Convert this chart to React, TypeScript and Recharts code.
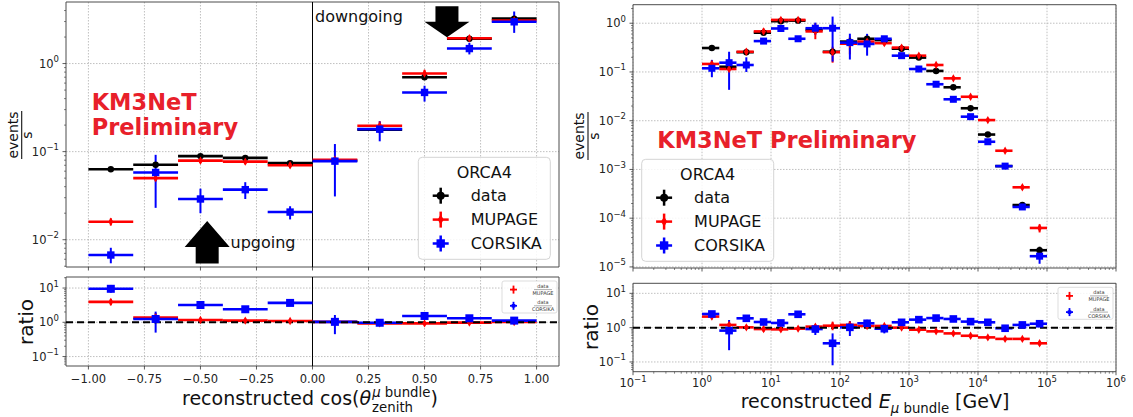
import React from "react";
import {
  ComposedChart,
  Scatter,
  XAxis,
  YAxis,
  CartesianGrid,
  ErrorBar,
  ReferenceLine,
  ReferenceArea,
  ReferenceDot,
} from "recharts";

const FONT = "'DejaVu Sans', 'Liberation Sans', sans-serif";
const RED_TXT = "#e8202a";
const C_DATA = "#000000";
const C_MUP = "#ff0000";
const C_COR = "#0000ff";
const FRAME = "#4d4d4d";
const GRID = "#b0b0b0";
const TS = 3.5;
const TM = 3.5;

type Pair = [number, number];

// ---- cos(zenith) binning (left panel)
const cosLow = [-1.0, -0.8, -0.6, -0.4, -0.2, 0.0, 0.2, 0.4, 0.6, 0.8];
const cosHigh = [-0.8, -0.6, -0.4, -0.2, 0.0, 0.2, 0.4, 0.6, 0.8, 1.0];
const cosMid = [-0.9, -0.7, -0.5, -0.3, -0.1, 0.1, 0.3, 0.5, 0.7, 0.9];
const cosTicks = [-1.0, -0.75, -0.5, -0.25, 0.0, 0.25, 0.5, 0.75, 1.0];

const cosData = [0.063, 0.071, 0.089, 0.085, 0.074, 0.079, 0.178, 0.7, 1.91, 3.24];
const cosDataErr: Pair[] = [[0.002, 0.002], [0.003, 0.003], [0.003, 0.003], [0.003, 0.003], [0.003, 0.003], [0.004, 0.004], [0.008, 0.008], [0.03, 0.03], [0.08, 0.08], [0.12, 0.12]];
const cosMupage = [0.016, 0.05, 0.079, 0.077, 0.07, 0.081, 0.197, 0.77, 1.94, 3.08];
const cosMupageErr: Pair[] = [[0.0015, 0.0015], [0.004, 0.004], [0.005, 0.005], [0.005, 0.005], [0.005, 0.005], [0.005, 0.005], [0.02, 0.025], [0.07, 0.08], [0.12, 0.12], [0.2, 0.2]];
const cosCorsika = [0.0067, 0.058, 0.029, 0.037, 0.0206, 0.078, 0.18, 0.47, 1.48, 2.98];
const cosCorsikaErr: Pair[] = [[0.0013, 0.0014], [0.035, 0.034], [0.009, 0.009], [0.008, 0.008], [0.0036, 0.0034], [0.047, 0.044], [0.049, 0.04], [0.1, 0.09], [0.21, 0.24], [0.75, 0.92]];

const cosRatioMupage = [3.94, 1.37, 1.17, 1.12, 1.09, 1.03, 0.93, 0.93, 0.98, 1.02];
const cosRatioMupageErr: Pair[] = [[0.8, 0.9], [0.4, 0.5], [0.15, 0.2], [0.12, 0.15], [0.12, 0.15], [0.1, 0.1], [0.1, 0.12], [0.1, 0.1], [0.1, 0.1], [0.1, 0.1]];
const cosRatioCorsika = [9.5, 1.25, 3.2, 2.4, 3.68, 1.03, 0.97, 1.53, 1.31, 1.12];
const cosRatioCorsikaErr: Pair[] = [[2.2, 2.8], [0.75, 0.8], [0.7, 0.9], [0.4, 0.5], [0.6, 0.7], [0.58, 0.6], [0.12, 0.14], [0.2, 0.25], [0.15, 0.18], [0.2, 0.25]];

// ---- E_mu bundle binning (right panel)
const eLow = [1, 1.78, 3.16, 5.62, 10, 17.8, 31.6, 56.2, 100, 178, 316, 562, 1000, 1778, 3162, 5623, 10000, 17783, 31623, 56234];
const eHigh = [1.78, 3.16, 5.62, 10, 17.8, 31.6, 56.2, 100, 178, 316, 562, 1000, 1778, 3162, 5623, 10000, 17783, 31623, 56234, 100000];
const eMid = [1.39, 2.47, 4.39, 7.81, 13.9, 24.7, 43.9, 78.1, 139, 247, 439, 781, 1389, 2470, 4392, 7812, 13891, 24703, 43928, 78117];
const eTicks = [0.1, 1, 10, 100, 1000, 10000, 100000, 1000000];

const eData = [0.31, 0.128, 0.254, 0.64, 1.1, 1.13, 0.73, 0.26, 0.42, 0.48, 0.45, 0.3, 0.197, 0.105, 0.0485, 0.018, 0.0052, 0.00117, 0.000186, 0.000022];
const eDataErr: Pair[] = [[0.012, 0.012], [0.008, 0.008], [0.012, 0.012], [0.025, 0.025], [0.04, 0.04], [0.04, 0.04], [0.03, 0.03], [0.015, 0.015], [0.02, 0.02], [0.02, 0.02], [0.02, 0.02], [0.012, 0.012], [0.008, 0.008], [0.004, 0.004], [0.002, 0.002], [0.0008, 0.0008], [0.0003, 0.0003], [0.00008, 0.00008], [0.00002, 0.00002], [0.000004, 0.000004]];
const eMupage = [0.146, 0.115, 0.26, 0.68, 1.17, 1.17, 0.68, 0.255, 0.38, 0.42, 0.39, 0.316, 0.216, 0.139, 0.074, 0.031, 0.0103, 0.00242, 0.00043, 0.000063];
const eMupageErr: Pair[] = [[0.02, 0.02], [0.015, 0.02], [0.03, 0.04], [0.09, 0.1], [0.15, 0.15], [0.15, 0.15], [0.21, 0.32], [0.1, 0.075], [0.15, 0.15], [0.05, 0.05], [0.04, 0.04], [0.03, 0.03], [0.02, 0.02], [0.012, 0.012], [0.006, 0.006], [0.0025, 0.0025], [0.0008, 0.0008], [0.0002, 0.0002], [0.00004, 0.00004], [0.000012, 0.000012]];
const eCorsika = [0.119, 0.155, 0.139, 0.43, 0.78, 0.48, 0.79, 0.79, 0.4, 0.376, 0.48, 0.216, 0.115, 0.056, 0.0275, 0.0121, 0.0037, 0.00117, 0.00017, 0.0000166];
const eCorsikaErr: Pair[] = [[0.041, 0.058], [0.112, 0.105], [0.039, 0.061], [0.05, 0.06], [0.1, 0.12], [0.05, 0.05], [0.21, 0.24], [0.627, 0.58], [0.22, 0.21], [0.16, 0.23], [0.06, 0.06], [0.02, 0.02], [0.01, 0.01], [0.005, 0.005], [0.0025, 0.0025], [0.001, 0.001], [0.0003, 0.0003], [0.0001, 0.0001], [0.00002, 0.00002], [0.000005, 0.000005]];

const eRatioMupage = [2.1, 1.2, 1.02, 0.91, 0.89, 0.935, 1.07, 1.14, 1.2, 1.12, 1.12, 1.0, 0.87, 0.78, 0.68, 0.58, 0.52, 0.47, 0.47, 0.35];
const eRatioMupageErr: Pair[] = [[0.35, 0.35], [0.2, 0.25], [0.15, 0.15], [0.15, 0.15], [0.12, 0.12], [0.12, 0.12], [0.15, 0.15], [0.3, 0.35], [0.3, 0.35], [0.2, 0.2], [0.15, 0.15], [0.1, 0.1], [0.08, 0.08], [0.07, 0.07], [0.07, 0.07], [0.06, 0.06], [0.06, 0.06], [0.05, 0.05], [0.05, 0.05], [0.05, 0.05]];
const eRatioCorsika = [2.5, 0.82, 1.87, 1.46, 1.37, 2.45, 0.91, 0.35, 1.02, 1.34, 0.93, 1.43, 1.71, 1.9, 1.79, 1.5, 1.43, 0.96, 1.2, 1.3];
const eRatioCorsikaErr: Pair[] = [[0.5, 0.5], [0.6, 0.85], [0.3, 0.3], [0.2, 0.2], [0.2, 0.2], [0.25, 0.25], [0.3, 0.3], [0.27, 0.33], [0.45, 0.5], [0.3, 0.35], [0.25, 0.25], [0.15, 0.15], [0.15, 0.15], [0.15, 0.15], [0.1, 0.1], [0.1, 0.1], [0.1, 0.1], [0.1, 0.1], [0.1, 0.1], [0.15, 0.15]];

// ---- helpers
const rows = (xc: number[], lo: number[], hi: number[], y: number[], err: Pair[]) =>
  xc.map((x, i) => ({ x, y: y[i], ex: [x - lo[i], hi[i] - x], ey: err[i] }));

const minorTicks = (fromExp: number, toExp: number, lo: number, hi: number) => {
  const out: number[] = [];
  for (let e = fromExp; e <= toExp; e++)
    for (let m = 2; m <= 9; m++) {
      const v = m * Math.pow(10, e);
      if (v > lo && v < hi) out.push(v);
    }
  return out;
};

const isDecade = (v: number) => Math.abs(Math.log10(v) - Math.round(Math.log10(v))) < 1e-6;
const expText = (v: number) => {
  const e = Math.round(Math.log10(v));
  return e < 0 ? "\u2212" + -e : String(e);
};

function yLogTick(props: any) {
  const { x, y, payload } = props;
  const v = payload.value as number;
  const major = isDecade(v);
  const ax = x + TM + TS;
  return (
    <g>
      <line x1={ax - (major ? 3.5 : 2)} x2={ax} y1={y} y2={y} stroke="#333" strokeWidth={major ? 0.8 : 0.6} />
      {major && (
        <text x={x} y={y + 4} textAnchor="end" fontSize={11.5} fill="#222" fontFamily={FONT}>
          10<tspan dy={-5.5} fontSize={8.5}>{expText(v)}</tspan>
        </text>
      )}
    </g>
  );
}

const xTick = (labels: boolean, log: boolean) => (props: any) => {
  const { x, y, payload } = props;
  const v = payload.value as number;
  const major = log ? isDecade(v) : true;
  const ay = y - TM - TS;
  return (
    <g>
      <line x1={x} x2={x} y1={ay} y2={ay + (major ? 3.5 : 2)} stroke="#333" strokeWidth={major ? 0.8 : 0.6} />
      {labels && major && !log && (
        <text x={x} y={ay + 16.5} textAnchor="middle" fontSize={11.5} fill="#222" fontFamily={FONT}>
          {v.toFixed(2).replace("-", "\u2212")}
        </text>
      )}
      {labels && major && log && (
        <text x={x} y={ay + 15} textAnchor="middle" fontSize={11.5} fill="#222" fontFamily={FONT}>
          10<tspan dy={-5} fontSize={8.5}>{expText(v)}</tspan>
        </text>
      )}
    </g>
  );
};

const circleShape = (c: string, r: number) => (p: any) => <circle cx={p.cx} cy={p.cy} r={r} fill={c} />;
const diamondShape = (c: string, w: number, h: number) => (p: any) => (
  <polygon points={`${p.cx},${p.cy - h} ${p.cx + w},${p.cy} ${p.cx},${p.cy + h} ${p.cx - w},${p.cy}`} fill={c} />
);
const squareShape = (c: string, s: number) => (p: any) => <rect x={p.cx - s} y={p.cy - s} width={2 * s} height={2 * s} fill={c} />;

function series(key: string, data: any[], color: string, shape: any) {
  return (
    <Scatter key={key} data={data} dataKey="y" fill={color} shape={shape} isAnimationActive={false}>
      <ErrorBar dataKey="ex" direction="x" width={0} stroke={color} strokeWidth={2.6} isAnimationActive={false} />
      <ErrorBar dataKey="ey" direction="y" width={0} stroke={color} strokeWidth={2} isAnimationActive={false} />
    </Scatter>
  );
}

const downArrow = (p: any) => {
  const { cx, cy } = p;
  return (
    <polygon
      points={`${cx - 11.5},${cy - 31} ${cx + 11.5},${cy - 31} ${cx + 11.5},${cy - 15.5} ${cx + 22.5},${cy - 15.5} ${cx},${cy} ${cx - 22.5},${cy - 15.5} ${cx - 11.5},${cy - 15.5}`}
      fill="#000"
    />
  );
};
const upArrow = (p: any) => {
  const { cx, cy } = p;
  return (
    <polygon
      points={`${cx},${cy} ${cx + 22.5},${cy + 26} ${cx + 11.5},${cy + 26} ${cx + 11.5},${cy + 42.5} ${cx - 11.5},${cy + 42.5} ${cx - 11.5},${cy + 26} ${cx - 22.5},${cy + 26}`}
      fill="#000"
    />
  );
};

// ---- domains / ticks
const COS_DOMAIN: Pair = [-1.1, 1.1];
const COS_Y: Pair = [0.0049, 5.0];
const E_DOMAIN: Pair = [0.1, 1000000];
const E_Y: Pair = [0.0000095, 2.4];
const RATIO_L: Pair = [0.053, 21];
const RATIO_R: Pair = [0.052, 19.6];

const cosYTicks = [0.01, 0.1, 1, ...minorTicks(-3, 0, COS_Y[0], COS_Y[1])];
const ratioYTicksL = [0.1, 1, 10, ...minorTicks(-2, 1, RATIO_L[0], RATIO_L[1])];
const ratioYTicksR = [0.1, 1, 10, ...minorTicks(-2, 1, RATIO_R[0], RATIO_R[1])];
const eYTicks = [0.00001, 0.0001, 0.001, 0.01, 0.1, 1, ...minorTicks(-6, 0, E_Y[0], E_Y[1])];
const eXTicks = [...eTicks, ...minorTicks(-1, 5, E_DOMAIN[0], E_DOMAIN[1])];

function Frame({ x, y }: { x: Pair; y: Pair }) {
  return <ReferenceArea x1={x[0]} x2={x[1]} y1={y[0]} y2={y[1]} fill="none" fillOpacity={0} stroke={FRAME} strokeWidth={1} ifOverflow="visible" />;
}

function MarkerGlyph({ kind, cx, cy, color, s }: { kind: string; cx: number; cy: number; color: string; s: number }) {
  if (kind === "circle") return <circle cx={cx} cy={cy} r={s} fill={color} />;
  if (kind === "diamond")
    return <polygon points={`${cx},${cy - s * 1.3} ${cx + s * 0.75},${cy} ${cx},${cy + s * 1.3} ${cx - s * 0.75},${cy}`} fill={color} />;
  return <rect x={cx - s} y={cy - s} width={2 * s} height={2 * s} fill={color} />;
}

const legendItems = [
  { label: "data", color: C_DATA, kind: "circle" },
  { label: "MUPAGE", color: C_MUP, kind: "diamond" },
  { label: "CORSIKA", color: C_COR, kind: "square" },
];

function MainLegend({ x, y }: { x: number; y: number }) {
  const w = 132;
  const h = 102;
  return (
    <g fontFamily={FONT}>
      <rect x={x} y={y} width={w} height={h} rx={4} fill="#fff" fillOpacity={0.85} stroke="#d4d4d4" />
      <text x={x + w / 2} y={y + 20.5} textAnchor="middle" fontSize={16} fill="#111">
        ORCA4
      </text>
      {legendItems.map((it, i) => {
        const cy = y + 38.4 + i * 23.9;
        const cx = x + 22.4;
        return (
          <g key={it.label}>
            <line x1={cx - 8} x2={cx + 8} y1={cy} y2={cy} stroke={it.color} strokeWidth={2.5} />
            <line x1={cx} x2={cx} y1={cy - 8} y2={cy + 8} stroke={it.color} strokeWidth={2.5} />
            <MarkerGlyph kind={it.kind} cx={cx} cy={cy} color={it.color} s={it.kind === "square" ? 4.2 : 4} />
            <text x={x + 52.4} y={cy + 5.6} fontSize={16} fill="#111">
              {it.label}
            </text>
          </g>
        );
      })}
    </g>
  );
}

function RatioLegend({ x, y }: { x: number; y: number }) {
  const w = 55;
  const h = 32;
  const items = [
    { den: "MUPAGE", color: C_MUP, kind: "diamond" },
    { den: "CORSIKA", color: C_COR, kind: "square" },
  ];
  return (
    <g fontFamily={FONT}>
      <rect x={x} y={y} width={w} height={h} rx={2} fill="#fff" fillOpacity={0.85} stroke="#d4d4d4" strokeWidth={0.8} />
      {items.map((it, i) => {
        const cy = y + 8.6 + i * 16.2;
        const cx = x + 11.5;
        return (
          <g key={it.den}>
            <line x1={cx - 3.5} x2={cx + 3.5} y1={cy} y2={cy} stroke={it.color} strokeWidth={1.8} />
            <line x1={cx} x2={cx} y1={cy - 4} y2={cy + 4} stroke={it.color} strokeWidth={1.8} />
            <MarkerGlyph kind={it.kind} cx={cx} cy={cy} color={it.color} s={1.8} />
            <text x={x + 41} y={cy - 1.5} textAnchor="middle" fontSize={5} fill="#333">
              data
            </text>
            <line x1={x + 32} x2={x + 50} y1={cy} y2={cy} stroke="#333" strokeWidth={0.4} />
            <text x={x + 41} y={cy + 5.5} textAnchor="middle" fontSize={5} fill="#333">
              {it.den}
            </text>
          </g>
        );
      })}
    </g>
  );
}

function Annotations() {
  return (
    <svg width={1133} height={417} style={{ position: "absolute", left: 0, top: 0, pointerEvents: "none" }} fontFamily={FONT}>
      {/* y labels */}
      <g transform="translate(21.7,135) rotate(-90)" fill="#111">
        <text x={0} y={-4} textAnchor="middle" fontSize={14}>events</text>
        <line x1={-24} x2={24} y1={0} y2={0} stroke="#111" strokeWidth={1.1} />
        <text x={0} y={10.5} textAnchor="middle" fontSize={14}>s</text>
      </g>
      <g transform="translate(588,136) rotate(-90)" fill="#111">
        <text x={0} y={-4} textAnchor="middle" fontSize={14}>events</text>
        <line x1={-24} x2={24} y1={0} y2={0} stroke="#111" strokeWidth={1.1} />
        <text x={0} y={10.5} textAnchor="middle" fontSize={14}>s</text>
      </g>
      <text transform="translate(33,322) rotate(-90)" textAnchor="middle" fontSize={20} fill="#111">ratio</text>
      <text transform="translate(598,327) rotate(-90)" textAnchor="middle" fontSize={20} fill="#111">ratio</text>

      {/* x labels */}
      <text x={182} y={405} fontSize={19} fill="#111">
        reconstructed cos(<tspan fontStyle="italic">θ</tspan>
        <tspan dx={1} dy={7} fontSize={13.3}>zenith</tspan>
        <tspan dx={-40.9} dy={-15} fontSize={13.3}>
          <tspan fontStyle="italic">μ</tspan> bundle
        </tspan>
        <tspan dy={8}>)</tspan>
      </text>
      <text x={875} y={408} textAnchor="middle" fontSize={19} fill="#111">
        reconstructed <tspan fontStyle="italic">E</tspan>
        <tspan dy={4.5} fontSize={13.3}>
          <tspan fontStyle="italic">μ</tspan> bundle
        </tspan>
        <tspan dy={-4.5}> [GeV]</tspan>
      </text>

      {/* watermark text */}
      <text x={91.7} y={110} fontSize={22.5} fontWeight="bold" fill={RED_TXT}>KM3NeT</text>
      <text x={91.7} y={135} fontSize={22.5} fontWeight="bold" fill={RED_TXT}>Preliminary</text>
      <text x={657.3} y={148.3} fontSize={22.5} fontWeight="bold" fill={RED_TXT}>KM3NeT Preliminary</text>

      <text x={315} y={22} fontSize={16} fill="#111">downgoing</text>
      <text x={230.5} y={248} fontSize={16} fill="#111">upgoing</text>

      <MainLegend x={418.3} y={157.3} />
      <MainLegend x={641.7} y={159.3} />
      <RatioLegend x={502} y={281} />
      <RatioLegend x={1058} y={287.3} />
    </svg>
  );
}

export default function App() {
  const cosD = rows(cosMid, cosLow, cosHigh, cosData, cosDataErr);
  const cosM = rows(cosMid, cosLow, cosHigh, cosMupage, cosMupageErr);
  const cosC = rows(cosMid, cosLow, cosHigh, cosCorsika, cosCorsikaErr);
  const cosRM = rows(cosMid, cosLow, cosHigh, cosRatioMupage, cosRatioMupageErr);
  const cosRC = rows(cosMid, cosLow, cosHigh, cosRatioCorsika, cosRatioCorsikaErr);
  const eD = rows(eMid, eLow, eHigh, eData, eDataErr);
  const eM = rows(eMid, eLow, eHigh, eMupage, eMupageErr);
  const eC = rows(eMid, eLow, eHigh, eCorsika, eCorsikaErr);
  const eRM = rows(eMid, eLow, eHigh, eRatioMupage, eRatioMupageErr);
  const eRC = rows(eMid, eLow, eHigh, eRatioCorsika, eRatioCorsikaErr);

  const yAxisCommon = {
    dataKey: "y",
    type: "number" as const,
    scale: "log" as const,
    allowDataOverflow: true,
    interval: 0 as const,
    tickLine: false,
    axisLine: false,
    tickSize: TS,
    tickMargin: TM,
    tick: yLogTick,
  };

  return (
    <div style={{ position: "absolute", left: 0, top: 0, width: 1133, height: 417, background: "#fff", overflow: "hidden", fontFamily: FONT }}>
      {/* left main */}
      <div style={{ position: "absolute", left: 0, top: 0 }}>
        <ComposedChart width={570} height={280} margin={{ top: 2, right: 11, bottom: 0, left: 0 }}>
          <CartesianGrid stroke={GRID} strokeDasharray="1.5 1.5" strokeWidth={0.8} verticalValues={cosTicks} horizontalValues={[0.01, 0.1, 1]} />
          <XAxis dataKey="x" type="number" domain={COS_DOMAIN} ticks={cosTicks} interval={0} allowDataOverflow height={13} tickLine={false} axisLine={false} tickSize={TS} tickMargin={TM} tick={xTick(false, false)} />
          <YAxis {...yAxisCommon} domain={COS_Y} ticks={cosYTicks} width={66} />
          <Frame x={COS_DOMAIN} y={COS_Y} />
          <ReferenceLine x={0} stroke="#000" strokeWidth={1} />
          {series("d", cosD, C_DATA, circleShape(C_DATA, 3.2))}
          {series("m", cosM, C_MUP, diamondShape(C_MUP, 2.4, 4.2))}
          {series("c", cosC, C_COR, squareShape(C_COR, 3.7))}
          <ReferenceDot x={-0.47} y={0.0163} shape={upArrow} ifOverflow="visible" />
          <ReferenceDot x={0.6} y={1.99} shape={downArrow} ifOverflow="visible" />
        </ComposedChart>
      </div>

      {/* left ratio */}
      <div style={{ position: "absolute", left: 0, top: 270 }}>
        <ComposedChart width={570} height={147} margin={{ top: 7, right: 11, bottom: 0, left: 0 }}>
          <CartesianGrid stroke={GRID} strokeDasharray="1.5 1.5" strokeWidth={0.8} verticalValues={cosTicks} horizontalValues={[0.1, 1, 10]} />
          <XAxis dataKey="x" type="number" domain={COS_DOMAIN} ticks={cosTicks} interval={0} allowDataOverflow height={51} tickLine={false} axisLine={false} tickSize={TS} tickMargin={TM} tick={xTick(true, false)} />
          <YAxis {...yAxisCommon} domain={RATIO_L} ticks={ratioYTicksL} width={66} />
          <Frame x={COS_DOMAIN} y={RATIO_L} />
          <ReferenceLine x={0} stroke="#000" strokeWidth={1} />
          {series("rm", cosRM, C_MUP, diamondShape(C_MUP, 2.4, 4.2))}
          {series("rc", cosRC, C_COR, squareShape(C_COR, 4))}
          <ReferenceLine y={1} stroke="#000" strokeWidth={2} strokeDasharray="7 4" />
        </ComposedChart>
      </div>

      {/* right main */}
      <div style={{ position: "absolute", left: 570, top: 0 }}>
        <ComposedChart width={563} height={280} margin={{ top: 4.7, right: 17, bottom: 0, left: 0 }}>
          <CartesianGrid stroke={GRID} strokeDasharray="1.5 1.5" strokeWidth={0.8} verticalValues={eTicks} horizontalValues={[0.00001, 0.0001, 0.001, 0.01, 0.1, 1]} />
          <XAxis dataKey="x" type="number" scale="log" domain={E_DOMAIN} ticks={eXTicks} interval={0} allowDataOverflow height={12} tickLine={false} axisLine={false} tickSize={TS} tickMargin={TM} tick={xTick(false, true)} />
          <YAxis {...yAxisCommon} domain={E_Y} ticks={eYTicks} width={63} />
          <Frame x={E_DOMAIN} y={E_Y} />
          {series("d", eD, C_DATA, circleShape(C_DATA, 3.2))}
          {series("m", eM, C_MUP, diamondShape(C_MUP, 2.4, 4.2))}
          {series("c", eC, C_COR, squareShape(C_COR, 3.5))}
        </ComposedChart>
      </div>

      {/* right ratio */}
      <div style={{ position: "absolute", left: 570, top: 270 }}>
        <ComposedChart width={563} height={147} margin={{ top: 13.3, right: 17, bottom: 0, left: 0 }}>
          <CartesianGrid stroke={GRID} strokeDasharray="1.5 1.5" strokeWidth={0.8} verticalValues={eTicks} horizontalValues={[0.1, 1, 10]} />
          <XAxis dataKey="x" type="number" scale="log" domain={E_DOMAIN} ticks={eXTicks} interval={0} allowDataOverflow height={45.3} tickLine={false} axisLine={false} tickSize={TS} tickMargin={TM} tick={xTick(true, true)} />
          <YAxis {...yAxisCommon} domain={RATIO_R} ticks={ratioYTicksR} width={63} />
          <Frame x={E_DOMAIN} y={RATIO_R} />
          {series("rm", eRM, C_MUP, diamondShape(C_MUP, 2.4, 4.2))}
          {series("rc", eRC, C_COR, squareShape(C_COR, 3.8))}
          <ReferenceLine y={1} stroke="#000" strokeWidth={2} strokeDasharray="7 4" />
        </ComposedChart>
      </div>

      <Annotations />
    </div>
  );
}
